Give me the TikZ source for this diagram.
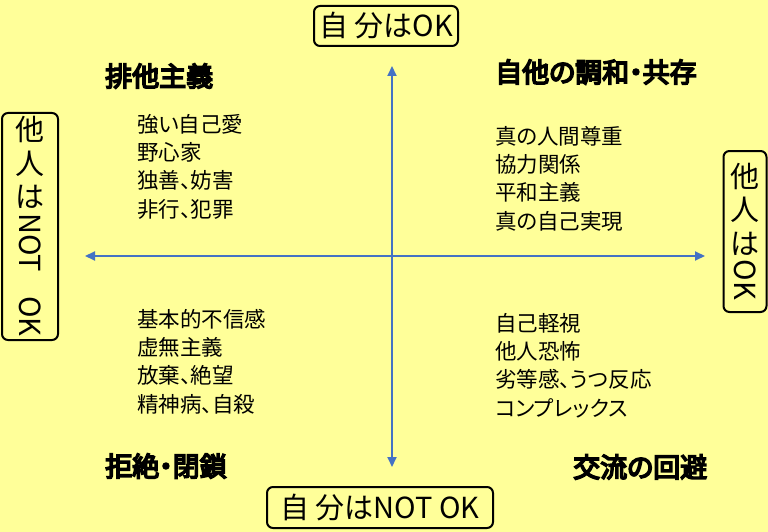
\documentclass[tikz,border=0pt]{standalone}
\usepackage{fontspec}
\usepackage{graphicx}
\usepackage{tikz}
\usetikzlibrary{arrows.meta}
\newfontfamily\jpfont{Noto Sans CJK JP}
\newfontfamily\jplist[RawFeature=+palt]{Noto Sans CJK JP}
\newfontfamily\jphead[FakeBold=6, RawFeature=+palt]{Noto Sans CJK JP}
\definecolor{bgyellow}{HTML}{FFFF99}
\definecolor{axisblue}{HTML}{4472C4}
\tikzstyle{okbox} = [rectangle, draw, rounded corners=6pt, line width=2pt,
    fill=bgyellow, inner sep=0pt, font=\jpfont\fontsize{29}{33.5}\selectfont]
\tikzstyle{axis} = [draw, axisblue, line width=2pt, {Triangle[length=10pt,width=9pt]}-{Triangle[length=10pt,width=9pt]}]

\begin{document}
\begin{tikzpicture}[x=1pt, y=-1pt,
    heading/.style={anchor=west, inner sep=0pt, font=\jphead\fontsize{27}{30}\selectfont},
    items/.style={anchor=north west, inner sep=0pt, align=left,
        font=\jplist\fontsize{21.5}{28.3}\selectfont},
    sidetext/.style={align=center}
    ]
    \useasboundingbox (0,0) rectangle (768,532);
    \fill[bgyellow] (0,0) rectangle (768,532);

    % axes
    \coordinate (axtop) at (392,66);
    \coordinate (axbot) at (392,467);
    \coordinate (axleft) at (85,256);
    \coordinate (axright) at (705,256);
    \path[axis] (axtop) -- (axbot);
    \path[axis] (axleft) -- (axright);

    % labels of the axes
    \node[okbox, minimum width=144, minimum height=40] (selfok) at (386,26) {自 分はOK};
    \node[okbox, minimum width=226, minimum height=41] (selfng) at (380,507.5) {自 分はNOT OK};
    \node[okbox, sidetext, minimum width=56, minimum height=227] (otherng) at (30,226.5)
        {他\\人\\は\\[-28pt]\rotatebox{-90}{NOT\hspace{24pt}OK}};
    \node[okbox, sidetext, minimum width=43, minimum height=161] (otherok) at (745,231.5)
        {他\\人\\は\\[-28pt]\rotatebox{-90}{OK}};

    % quadrants
    \node[heading] (exclusion) at (105,76) {排他主義};
    \node[heading] (harmony) at (495,72) {自他の調和・共存};
    \node[heading] (rejection) at (105,466) {拒絶・閉鎖};
    \node[heading] (avoidance) at (573,467) {交流の回避};

    \node[items] (exclitems) at (137,114) {強い自己愛\\野心家\\独善、妨害\\非行、犯罪};
    \node[items] (harmitems) at (495,126) {真の人間尊重\\協力関係\\平和主義\\真の自己実現};
    \node[items] (rejitems) at (137,309) {基本的不信感\\虚無主義\\放棄、絶望\\精神病、自殺};
    \node[items] (avoiditems) at (495,313) {自己軽視\\他人恐怖\\劣等感、うつ反応\\コンプレックス};
\end{tikzpicture}
\end{document}
